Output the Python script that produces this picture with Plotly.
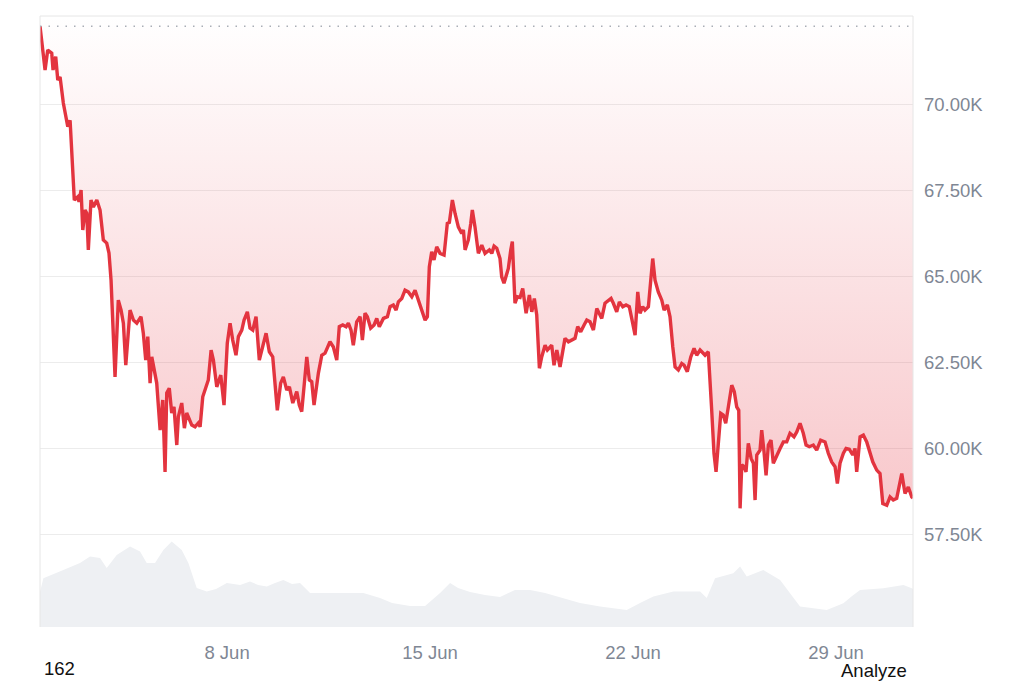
import plotly.graph_objects as go
import pandas as pd

# ---- data ----
# hours since 2024-06-01 00:00 and price (USD)
price_hours = [
    13.2, 17.4, 19.6, 22.9, 24.0, 26.2, 27.9, 29.8, 32.5, 36.2,
    38.1, 39.5, 41.6, 44.4, 45.5, 47.2, 48.6, 50.5, 51.9, 53.2,
    55.4, 57.4, 60.2, 62.9, 65.6, 68.4, 70.3, 72.0, 75.3, 78.0,
    80.3, 82.2, 84.2, 87.7, 90.5, 93.3, 96.8, 98.7, 100.7, 102.4,
    104.3, 105.7, 108.4, 109.8, 112.6, 114.8, 116.7, 118.1, 120.2, 122.2,
    124.1, 126.4, 127.7, 130.5, 132.7, 134.6, 138.8, 141.5, 144.2, 145.7,
    147.9, 150.6, 152.5, 154.8, 156.7, 159.5, 162.8, 165.5, 168.2, 170.5,
    172.7, 175.4, 177.4, 180.2, 182.1, 184.8, 187.0, 189.3, 192.0, 194.7,
    197.5, 200.3, 203.0, 205.8, 209.6, 212.4, 214.6, 217.4, 219.6, 222.4,
    225.7, 227.8, 229.8, 232.6, 234.0, 236.1, 238.1, 240.0, 243.6, 246.4,
    249.1, 253.2, 256.0, 258.8, 260.9, 263.8, 266.5, 268.4, 270.6, 272.5,
    275.3, 278.1, 280.0, 282.2, 284.1, 286.9, 289.7, 291.9, 294.0, 297.4,
    300.7, 302.9, 305.6, 307.9, 309.8, 312.6, 315.3, 318.0, 320.9, 323.6,
    326.3, 328.6, 330.5, 331.9, 333.8, 335.4, 337.4, 339.3, 341.5, 344.3,
    347.6, 350.3, 352.0, 354.5, 356.7, 359.4, 362.2, 363.6, 365.0, 367.7,
    369.7, 371.0, 373.2, 376.0, 378.8, 381.5, 385.1, 387.1, 389.0, 391.2,
    393.9, 395.3, 397.2, 398.9, 400.8, 402.8, 404.1, 406.3, 408.3, 410.5,
    412.7, 415.5, 418.2, 420.2, 422.3, 424.3, 426.5, 428.4, 431.2, 433.1,
    436.7, 438.6, 440.9, 443.6, 447.7, 450.5, 453.3, 456.0, 458.2, 460.7,
    463.5, 465.7, 468.4, 471.2, 474.0, 476.1, 478.1, 480.8, 483.6, 485.8,
    487.7, 490.5, 492.7, 495.5, 498.2, 500.9, 502.9, 505.7, 507.9, 509.8,
    512.0, 513.9, 516.7, 518.7, 520.3, 522.2, 524.9, 527.8, 529.7, 532.4,
    534.6, 536.9, 538.8, 541.5, 544.3, 546.2, 548.9, 551.8, 554.5, 556.7,
    559.5, 560.9, 563.6, 566.3, 567.7, 569.1, 571.0, 572.7, 574.6, 576.6,
    578.7, 580.7, 582.9, 585.7, 587.8, 589.8, 591.5, 592.6, 594.0, 595.9,
    597.5, 599.4, 601.7, 603.6, 605.0, 606.4, 609.1, 610.5, 612.4, 614.1,
    616.0, 618.2, 620.1, 622.9, 625.7, 628.4, 631.2, 633.9, 637.2, 639.5,
    642.2, 644.9, 647.2, 649.9, 653.2, 656.0, 659.3, 662.9, 665.6, 668.4,
    671.2, 673.1, 675.3, 678.1, 680.3, 683.0, 685.8, 687.7, 689.1, 691.9,
    694.6, 697.4, 700.1, 702.4, 705.7, 708.4, 710.7, 714.0, 716.7, 719.4,
    722.2, 724.4, 726.4, 729.1, 731.8, 734.7, 735.7,
]
prices = [
    72260, 70990, 71570, 71480, 70990, 71380, 70700, 70790, 70030, 69340,
    69530, 68580, 67210, 67300, 67160, 67500, 66340, 66920, 66830, 65760,
    67210, 67010, 67210, 66920, 66050, 65960, 65670, 64880, 62070, 64300,
    64010, 63630, 62410, 64010, 63720, 63630, 63820, 63340, 62560, 63240,
    61890, 62650, 62180, 61890, 60520, 61400, 59310, 61600, 61740, 61020,
    61200, 60090, 60910, 61310, 60580, 61020, 60670, 60620, 60730, 60620,
    61490, 61830, 61980, 62850, 62560, 61780, 62120, 61250, 63050, 63630,
    63140, 62700, 63240, 63430, 63720, 63960, 63490, 63430, 63820, 62560,
    62910, 63340, 62800, 62650, 61100, 61890, 62070, 61690, 61780, 61310,
    61640, 61250, 61060, 62070, 62650, 61980, 61930, 61250, 62180, 62700,
    62760, 63090, 62940, 62560, 63530, 63580, 63530, 63630, 63430, 62990,
    63670, 63820, 63140, 63920, 63820, 63490, 63580, 63770, 63530, 63770,
    63820, 64110, 64160, 64010, 64250, 64350, 64590, 64540, 64400, 64590,
    64300, 64060, 63870, 63720, 63820, 65270, 65710, 65470, 65850, 65660,
    65610, 66530, 66560, 67210, 66820, 66430, 66240, 66340, 65760, 66050,
    66530, 66920, 66430, 65660, 65900, 65660, 65760, 65660, 65870, 65810,
    65510, 64980, 64790, 64980, 65220, 65760, 66000, 64210, 64400, 64380,
    64640, 63920, 64450, 63960, 64350, 63870, 62320, 62650, 62990, 62850,
    62990, 62410, 62850, 62360, 63190, 63090, 63140, 63190, 63530, 63380,
    63580, 63720, 63670, 63430, 64060, 63920, 63770, 64210, 64300, 64350,
    64210, 63960, 64250, 64110, 64160, 64110, 63770, 63280, 64540, 63920,
    64110, 64010, 64110, 64880, 65510, 64880, 64540, 64300, 64010, 64160,
    63820, 62940, 62360, 62270, 62460, 62410, 62220, 62650, 62900, 62700,
    62850, 62800, 62700, 62800, 62070, 61100, 59850, 59310, 60140, 61010,
    60960, 60720, 61200, 61830, 61640, 61200, 61100, 58250, 59510, 59460,
    59310, 60140, 59700, 59560, 58490, 59800, 59940, 60520, 59890, 59210,
    60090, 60230, 59560, 59800, 59990, 60180, 60180, 60430, 60330, 60470,
    60720, 60430, 60090, 60040, 60090, 59940, 60230, 60180, 59850, 59600,
    59460, 58970, 59560, 59850, 59990, 59970, 59800, 59990, 59310, 60330,
    60380, 60180, 59850, 59600, 59360, 59260, 58390, 58340, 58580, 58490,
    58540, 58970, 59260, 58680, 58870, 58580, 58550,
]

# trading volume (billions USD), hours since 2024-06-01 00:00
volume_hours = [
    13.2, 16.0, 32.5, 46.3, 54.6, 62.9, 68.4, 76.7, 87.7, 96.0,
    101.5, 108.4, 115.3, 122.2, 130.5, 136.0, 142.9, 151.2, 158.9, 167.8,
    178.8, 187.0, 193.7, 200.9, 207.7, 214.6, 221.8, 228.4, 236.7, 256.0,
    280.8, 294.6, 304.6, 319.5, 331.9, 344.3, 352.6, 359.2, 369.1, 381.5,
    393.9, 406.3, 418.8, 431.2, 443.6, 460.1, 476.7, 498.8, 509.8, 520.8,
    537.4, 551.2, 559.5, 565.0, 571.9, 587.0, 592.6, 598.1, 611.8, 625.7,
    634.0, 642.2, 664.3, 678.1, 685.3, 691.9, 711.2, 727.8, 734.7, 735.7,
]
volumes = [
    17.5, 24.4, 28.5, 32.0, 35.2, 34.5, 29.5, 36.0, 40.2, 37.7,
    32.0, 32.0, 38.5, 42.7, 38.5, 32.0, 19.5, 17.7, 19.0, 22.0,
    21.0, 22.7, 21.0, 20.2, 22.0, 23.5, 21.5, 22.0, 17.0, 17.0,
    17.0, 14.5, 12.0, 10.5, 10.5, 17.0, 22.0, 19.5, 17.5, 16.0,
    15.0, 18.5, 18.5, 17.0, 15.0, 12.0, 10.2, 8.5, 12.0, 15.2,
    17.7, 17.5, 17.7, 14.5, 24.4, 26.9, 30.2, 25.2, 28.5, 23.5,
    17.0, 10.2, 8.5, 11.9, 15.5, 18.5, 19.4, 21.0, 19.4, 19.0,
]

x_tick_dates = ["2024-06-08", "2024-06-15", "2024-06-22", "2024-06-29"]
x_tick_labels = ["8 Jun", "15 Jun", "22 Jun", "29 Jun"]
y_tick_values = [57500, 60000, 62500, 65000, 67500, 70000]
y_tick_labels = ["57.50K", "60.00K", "62.50K", "65.00K", "67.50K", "70.00K"]

price_range = [54800, 72560]
volume_range = [0, 305.5]

# ---- build ----
base = pd.Timestamp("2024-06-01")
n = min(len(price_hours), len(prices))
p_time = base + pd.to_timedelta(price_hours[:n], unit="h")
p_val = prices[:n]
m = min(len(volume_hours), len(volumes))
v_time = base + pd.to_timedelta(volume_hours[:m], unit="h")
v_val = volumes[:m]

t0, t1 = p_time[0], p_time[-1]
max_price = max(p_val)

RED = "#e3343f"
GREY_TXT = "#7f8794"
FONT = "Liberation Sans, Arial, sans-serif"

fig = go.Figure()

fig.add_trace(go.Scatter(
    x=v_time, y=v_val, yaxis="y2", mode="lines",
    line=dict(width=0, color="#eef0f3"),
    fill="tozeroy", fillcolor="#eef0f3",
    hoverinfo="skip", showlegend=False,
))

fig.add_trace(go.Scatter(
    x=[t0, t1], y=[price_range[1], price_range[1]], mode="lines",
    line=dict(width=0, color="rgba(0,0,0,0)"),
    hoverinfo="skip", showlegend=False,
))

fig.add_trace(go.Scatter(
    x=p_time, y=p_val, mode="lines",
    line=dict(color=RED, width=3.4),
    fill="tonexty",
    fillgradient=dict(
        type="vertical",
        colorscale=[[0, "rgba(230,57,70,0.30)"], [1, "rgba(230,57,70,0.0)"]],
        start=price_range[0] + 2500,
        stop=price_range[1],
    ),
    hoverinfo="skip", showlegend=False,
))

frame = dict(type="line", xref="paper", yref="paper",
             line=dict(color="#e6e6e6", width=1))
shapes = [
    dict(frame, x0=0, x1=0, y0=0, y1=1),
    dict(frame, x0=0, x1=1, y0=1, y1=1),
    dict(frame, x0=1, x1=1, y0=0, y1=1),
    dict(type="line", xref="paper", yref="y", x0=0, x1=1,
         y0=max_price, y1=max_price,
         line=dict(color="#a9aeb6", width=1.5, dash="1.5px,7px")),
]

fig.update_layout(
    width=1024, height=682,
    margin=dict(l=40, r=111, t=16, b=55),
    paper_bgcolor="white", plot_bgcolor="white",
    font=dict(family=FONT, size=18.5, color=GREY_TXT),
    hovermode=False,
    shapes=shapes,
    xaxis=dict(
        type="date", range=[t0, t1],
        tickvals=x_tick_dates, ticktext=x_tick_labels,
        showgrid=False, zeroline=False, showline=False, ticks="",
        ticklabelstandoff=12,
        tickfont=dict(size=18.5, color=GREY_TXT, family=FONT),
    ),
    yaxis=dict(
        side="right", range=price_range,
        tickvals=y_tick_values, ticktext=y_tick_labels,
        showgrid=True, gridcolor="#ececec", gridwidth=1,
        zeroline=False, showline=False, ticks="",
        ticklabelstandoff=10,
        tickfont=dict(size=18.5, color=GREY_TXT, family=FONT),
    ),
    yaxis2=dict(overlaying="y", range=volume_range, visible=False),
    annotations=[
        dict(text="162", xref="paper", yref="paper", x=0.002, y=-0.068,
             xanchor="left", yanchor="middle", showarrow=False,
             font=dict(size=18.5, color="#111111", family=FONT)),
        dict(text="Analyze", xref="paper", yref="paper", x=0.9954, y=-0.071,
             xanchor="right", yanchor="middle", showarrow=False,
             font=dict(size=18.5, color="#111111", family=FONT)),
    ],
)

fig.write_html("out.html")
